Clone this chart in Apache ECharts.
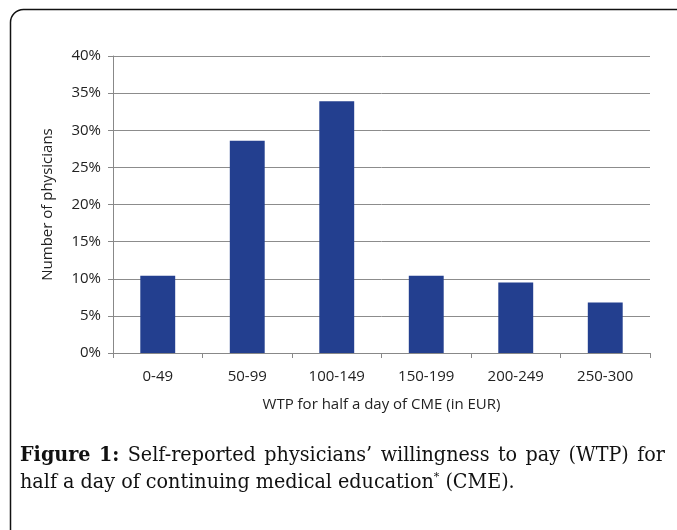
<!DOCTYPE html>
<html><head><meta charset="utf-8">
<script src="https://cdn.jsdelivr.net/npm/echarts@6/dist/echarts.min.js"></script>
<style>html,body{margin:0;padding:0;background:#fff}#c{width:677px;height:530px}</style>
</head><body><div id="c"></div>
<script>
const categories = ['0-49','50-99','100-149','150-199','200-249','250-300'];
const values = [10.4, 28.6, 33.9, 10.4, 9.5, 6.8];
const yTicks = [0,5,10,15,20,25,30,35,40];
const xName = 'WTP for half a day of CME (in EUR)';
const yName = 'Number of physicians';
const capLine1 = ['Figure','1:','Self-reported','physicians\u2019','willingness','to','pay','(WTP)','for'];
const capLine2a = 'half a day of continuing medical education';
const capLine2b = ' (CME).';

const chart = echarts.init(document.getElementById('c'));
const fam = '"DejaVu Serif Condensed", "DejaVu Serif", serif';
const cv = document.createElement('canvas').getContext('2d');
cv.font = '20px ' + fam;
const m2 = cv.measureText(capLine2a + '*' + capLine2b).width;
const fs = Math.max(17, Math.min(23, 20 * 500 / m2));
const capFont = fs.toFixed(1) + 'px ' + fam;
const capFontB = 'bold ' + capFont;
function w(t, bold){ cv.font = bold ? capFontB : capFont; return cv.measureText(t).width; }
const x0 = 20, x1 = 665;
const widths = capLine1.map((t,i)=>w(t, i<2));
const total = widths.reduce((a,b)=>a+b,0);
const gap = (x1-x0-total)/(capLine1.length-1);
let cx = x0;
const capEls = capLine1.map((t,i)=>{
  const el = {type:'text', left:cx, top:445, style:{text:t, font: i<2?capFontB:capFont, fill:'#111'}};
  cx += widths[i]+gap; return el;
});
capEls.push({type:'text', left:20, top:472, style:{
  text:capLine2a + '{s|*}' + capLine2b,
  font:capFont, fill:'#111', rich:{s:{fontSize:11, verticalAlign:'top', padding:[0,0,10,0], fontFamily:'DejaVu Serif'}}}});

chart.setOption({
  animation:false,
  grid:{left:113, right:27, top:56, bottom:177},
  xAxis:{type:'category', data:categories,
    axisLine:{lineStyle:{color:'#888'}},
    axisTick:{show:true, length:5, alignWithLabel:false, lineStyle:{color:'#888'}},
    axisLabel:{color:'#222', fontSize:15, fontFamily:'Open Sans', margin:16},
    name:xName, nameLocation:'middle', nameGap:44,
    nameTextStyle:{color:'#222', fontSize:15, fontFamily:'Open Sans'}},
  yAxis:{type:'value', min:0, max:40, interval:5,
    axisLine:{show:true, lineStyle:{color:'#888'}},
    axisTick:{show:true, length:5, lineStyle:{color:'#888'}},
    splitLine:{lineStyle:{color:'#8c8c8c'}},
    axisLabel:{color:'#222', fontSize:15, fontFamily:'Open Sans', margin:12, formatter:v=>v+'%'},
    name:yName, nameLocation:'middle', nameGap:58,
    nameTextStyle:{color:'#222', fontSize:15, fontFamily:'Open Sans'}},
  series:[{type:'bar', data:values, barWidth:'39%', itemStyle:{color:'#233f8f'}}],
  graphic:[
    {type:'rect', shape:{x:10.5, y:9.5, width:900, height:900, r:[13,0,0,0]}, style:{stroke:'#111', lineWidth:1.5, fill:'none'}, z:-1},
    ...capEls
  ]
});
</script></body></html>
